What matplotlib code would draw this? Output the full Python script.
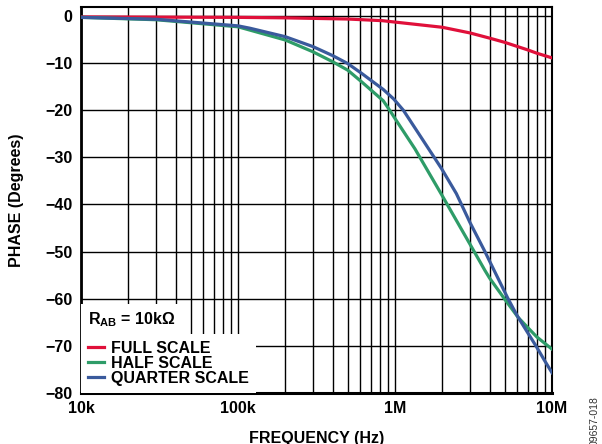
import numpy as np
import matplotlib
matplotlib.use('Agg')
import matplotlib.pyplot as plt
from matplotlib.ticker import LogLocator, NullFormatter

plt.rcParams['font.family'] = ['Liberation Sans', 'DejaVu Sans']
plt.rcParams['font.weight'] = 'bold'

# phase vs frequency
FREQ_FULL = [1e4, 3e4, 1e5, 2e5, 5e5, 8.3e5, 1e6, 2e6, 3e6, 4e6, 5e6, 7e6, 8e6, 1e7]
PHASE_FULL = [-0.2, -0.25, -0.3, -0.4, -0.65, -1.0, -1.3, -2.4, -3.6, -4.7, -5.6, -7.2, -7.9, -8.9]

FREQ_HALF = [1e4, 3e4, 1e5, 1.19e5, 2e5, 3e5, 4e5, 5e5, 6.14e5, 8.42e5, 9.29e5, 1.02e6,
             1.34e6, 1.98e6, 3e6, 3.74e6, 4e6, 5e6, 6.1e6, 7e6, 8e6, 1e7]
PHASE_HALF = [-0.3, -0.8, -2.3, -3.0, -5.1, -7.6, -9.7, -11.5, -14.0, -18.0, -20.1, -22.2,
              -28.2, -37.9, -48.4, -54.0, -55.6, -60.1, -64.0, -66.1, -68.1, -70.7]

FREQ_QUARTER = [1e4, 3e4, 1e5, 1.19e5, 2e5, 3e5, 4e5, 5e5, 6.14e5, 8.42e5, 9.8e5, 1.13e6,
                1.51e6, 1.98e6, 2.46e6, 3e6, 3.74e6, 4e6, 5.25e6, 6e6, 7e6, 7.9e6, 9e6, 1e7]
PHASE_QUARTER = [-0.3, -0.7, -2.1, -2.6, -4.4, -6.5, -8.4, -10.1, -12.2, -15.6, -17.6, -20.0,
                 -26.4, -32.4, -37.7, -43.8, -50.0, -52.0, -60.0, -63.6, -67.2, -70.0, -73.2, -75.7]

XTICKS = [1e4, 1e5, 1e6, 1e7]
XTICK_LABELS = ['10k', '100k', '1M', '10M']
YTICKS = [-80, -70, -60, -50, -40, -30, -20, -10, 0]
YTICK_LABELS = ['\u221280', '\u221270', '\u221260', '\u221250', '\u221240',
                '\u221230', '\u221220', '\u221210', '0']

RED = '#E0103A'
GREEN = '#2E9C68'
BLUE = '#3A5A9C'
FS = 11.5

fig = plt.figure(figsize=(6.02, 4.44), dpi=100)
ax = fig.add_axes([81 / 602, 1 - 393 / 444, (552 - 81) / 602, (393 - 7) / 444])

ax.plot(FREQ_FULL, PHASE_FULL, color=RED, lw=2.3, label='FULL SCALE', zorder=3,
        solid_joinstyle='round')
ax.plot(FREQ_HALF, PHASE_HALF, color=GREEN, lw=2.3, label='HALF SCALE', zorder=3,
        solid_joinstyle='round')
ax.plot(FREQ_QUARTER, PHASE_QUARTER, color=BLUE, lw=2.3, label='QUARTER SCALE', zorder=3,
        solid_joinstyle='round')

ax.set_xscale('log')
ax.set_xlim(1e4, 1e7)
ax.set_ylim(-80, 1.9)
ax.set_xticks(XTICKS)
ax.set_xticklabels(XTICK_LABELS)
ax.xaxis.set_minor_locator(LogLocator(base=10, subs=np.arange(2, 10)))
ax.xaxis.set_minor_formatter(NullFormatter())
ax.set_yticks(YTICKS)
ax.set_yticklabels(YTICK_LABELS)
ax.tick_params(which='both', length=0, labelsize=FS, pad=6)

ax.grid(True, which='major', color='black', lw=1.0)
ax.grid(True, which='minor', axis='x', color='black', lw=1.0)
ax.set_axisbelow(True)
for s in ax.spines.values():
    s.set_linewidth(1.5)
ax.spines['bottom'].set_linewidth(2.2)
ax.spines['left'].set_linewidth(2.0)

ax.set_xlabel('FREQUENCY (Hz)', fontsize=FS, fontweight='bold')
ax.xaxis.set_label_coords(0.5, -(431 - 393) / 386)
fig.text(17 / 602, 1 - 200 / 444, 'PHASE (Degrees)', rotation=90, fontsize=FS,
         fontweight='bold', ha='center', va='center')

leg = ax.legend(loc='lower left', bbox_to_anchor=(0, 0), borderaxespad=0,
                fontsize=FS, handlelength=1.0, handletextpad=0.45,
                labelspacing=0.0, borderpad=0.45, frameon=True, fancybox=False)
leg.get_frame().set_facecolor('white')
leg.get_frame().set_edgecolor('none')
leg.get_frame().set_alpha(1)
leg.set_zorder(5)

ax.text((88 - 81) / 471, (393 - 320) / 386, 'R$_\\mathregular{AB}$ = 10k\u03a9',
        transform=ax.transAxes, fontsize=FS, fontweight='bold', ha='left', va='center',
        zorder=6, bbox=dict(facecolor='white', edgecolor='none', pad=5))

fig.text(595 / 602, 1 - 421 / 444, '09657-018', rotation=90, fontsize=7.5,
         fontweight='normal', color='#333333', ha='center', va='center')

fig.savefig('out.png', dpi=100)
